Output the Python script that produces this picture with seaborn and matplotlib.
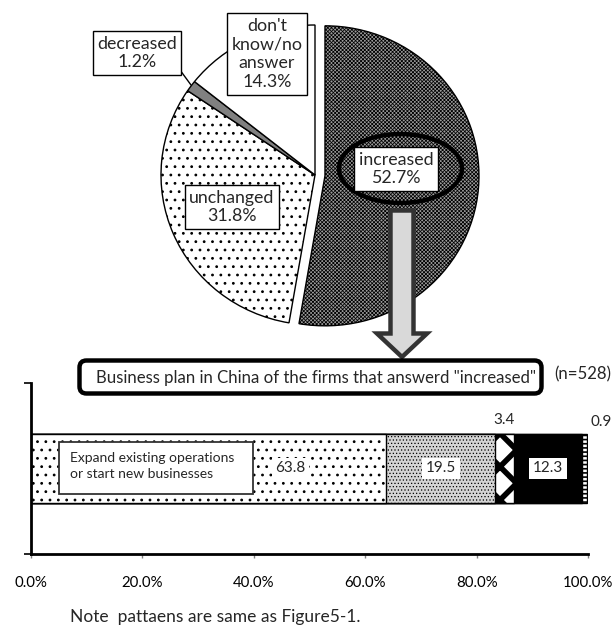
import numpy as np
import pandas as pd
import seaborn as sns
import matplotlib
matplotlib.use("Agg")
import matplotlib.pyplot as plt
from matplotlib.patches import Ellipse, FancyBboxPatch, Polygon, Rectangle

# Pie: change in business over the past year
pie_labels = ["increased", "unchanged", "decreased", "don't\nknow/no\nanswer"]
pie_values = [52.7, 31.8, 1.2, 14.3]

# Stacked bar: business plan in China of the firms answering "increased"
plan_values = [63.8, 19.5, 3.4, 12.3, 0.9]
plan_first_label = "Expand existing operations\nor start new businesses"
bar_title = 'Business plan in China of the firms that answerd "increased"'
n_label = "(n=528)"
xtick_values = [0, 20, 40, 60, 80, 100]
xtick_labels = ["0.0%", "20.0%", "40.0%", "60.0%", "80.0%", "100.0%"]
note_text = "Note  pattaens are same as Figure5-1."

sns.set_theme(style="white")
plt.rcParams["font.family"] = ["Lato", "DejaVu Sans"]
plt.rcParams["hatch.linewidth"] = 0.8

W, H = 615, 625
fig = plt.figure(figsize=(W / 100, H / 100), dpi=100)
renderer = fig.canvas.get_renderer()


def px_box(x0, y0, x1, y1):
    """Pixel box (origin top-left) to figure fraction rect."""
    return [x0 / W, 1 - y1 / H, (x1 - x0) / W, (y1 - y0) / H]


def fit(t, width_px, grow=1.04):
    w = t.get_window_extent(renderer).width
    t.set_fontsize(t.get_fontsize() * width_px / w * grow)


def hatch_lw(p, lw):
    if hasattr(p, "set_hatch_linewidth"):
        p.set_hatch_linewidth(lw)


# ---------------- pie ----------------
cx, cy, rx, ry = 315, 175, 154, 150
ax_pie = fig.add_axes(px_box(cx - 1.2 * rx, cy - 1.2 * ry, cx + 1.2 * rx, cy + 1.2 * ry))
wedges, _ = ax_pie.pie(
    pie_values, startangle=90, counterclock=False,
    explode=[0.065, 0, 0, 0],
    colors=["#9c9c9c", "white", "#808080", "white"],
    wedgeprops=dict(edgecolor="black", linewidth=1.0),
)
wedges[0].set_hatch("xxxxxxxxx")
hatch_lw(wedges[0], 0.55)
wedges[1].set_hatch("..")
ax_pie.set_aspect("auto")
ax_pie.set_xlim(-1.2, 1.2)
ax_pie.set_ylim(-1.2, 1.2)
ax_pie.axis("off")

# ---------------- stacked bar ----------------
ax_bar = fig.add_axes(px_box(31, 383, 588, 554))
cum = np.cumsum(plan_values)
seg_fc = ["white", "#d4d4d4", "white", "black", "white"]
seg_hatch = ["..", ".....", "x", None, "----"]
seg_hlw = [0.8, 0.5, 4.0, 0.8, 1.2]
for i in reversed(range(len(plan_values))):
    df = pd.DataFrame({"share": [cum[i]], "cat": [""]})
    n_before = len(ax_bar.patches)
    sns.barplot(data=df, x="share", y="cat", orient="h", width=0.404,
                color=seg_fc[i], saturation=1, edgecolor="black",
                linewidth=1.0, ax=ax_bar)
    for p in ax_bar.patches[n_before:]:
        p.set_facecolor(seg_fc[i])
        if seg_hatch[i]:
            p.set_hatch(seg_hatch[i])
            hatch_lw(p, seg_hlw[i])

ax_bar.set_xlim(0, 100)
ax_bar.set_ylim(0.5, -0.5)
ax_bar.set_xlabel("")
ax_bar.set_ylabel("")
ax_bar.set_yticks([-0.5, 0.5], ["", ""])
ax_bar.set_xticks(xtick_values, xtick_labels)
ax_bar.tick_params(axis="y", left=True, length=5, width=1.2, color="black", direction="out")
ax_bar.tick_params(axis="x", bottom=True, length=3, width=1, color="#808080",
                   direction="out", pad=13, labelcolor="black")
sns.despine(ax=ax_bar)
for s in ("left", "bottom"):
    ax_bar.spines[s].set_color("black")
    ax_bar.spines[s].set_linewidth(2)

# tick label size fitted to the label widths
probe = fig.text(0, 0, "20.0%", fontsize=10)
fit(probe, 40)
tick_fs = probe.get_fontsize()
probe.remove()
for lab in ax_bar.get_xticklabels():
    lab.set_fontsize(tick_fs)

# segment value labels
starts = cum - np.array(plan_values)
mids = starts + np.array(plan_values) / 2
t = ax_bar.text(starts[0] + plan_values[0] * 0.73, 0.0, f"{plan_values[0]}",
                ha="center", va="center", fontsize=11,
                bbox=dict(boxstyle="square,pad=0.2", fc="white", ec="none"))
fit(t, 29)
seg_fs = t.get_fontsize()
ax_bar.text(mids[1], 0.0, f"{plan_values[1]}", ha="center", va="center", fontsize=seg_fs,
            bbox=dict(boxstyle="square,pad=0.25", fc="white", ec="none"))
ax_bar.text(mids[2], -0.285, f"{plan_values[2]}", ha="center", va="center", fontsize=seg_fs)
ax_bar.text(mids[3], 0.0, f"{plan_values[3]}", ha="center", va="center", fontsize=seg_fs,
            bbox=dict(boxstyle="square,pad=0.25", fc="white", ec="none"))
ax_bar.text(mids[4] + 3.0, -0.27, f"{plan_values[4]}", ha="center", va="center", fontsize=seg_fs)

# ---------------- overlay: labels, arrow, boxes ----------------
ov = fig.add_axes([0, 0, 1, 1], zorder=10)
ov.set_xlim(0, W)
ov.set_ylim(H, 0)
ov.axis("off")
ov.patch.set_alpha(0)

box = dict(boxstyle="square,pad=0.26", fc="white", ec="black", lw=1.0)
pie_pos = [(396, 169), (232, 207), (137, 53), (267, 54)]
pie_texts = []
for lab, val, (x, y) in zip(pie_labels, pie_values, pie_pos):
    pie_texts.append(ov.text(x, y, f"{lab}\n{val}%", ha="center", va="center",
                             fontsize=12, linespacing=1.2, bbox=box, zorder=12))
fit(pie_texts[1], 82)
pie_fs = pie_texts[1].get_fontsize()
for t in pie_texts:
    t.set_fontsize(pie_fs)

# leader line for the small slice
ov.plot([180, 191], [70, 85], color="black", lw=1.0, zorder=11)

# emphasis ring around "increased"
ov.add_patch(Ellipse((400.5, 168.5), 123, 69, fill=False, ec="black", lw=3.2, zorder=11))

# block arrow down to the bar panel
arrow = Polygon([(390.5, 210.5), (413.5, 210.5), (413.5, 333.5), (427, 333.5),
                 (402, 357), (377, 333.5), (390.5, 333.5)],
                closed=True, fc="#d9d9d9", ec="#333333", lw=3.2, joinstyle="miter", zorder=11)
ov.add_patch(arrow)

# bar panel title box
ov.add_patch(FancyBboxPatch((79.5, 360.5), 462, 33,
                            boxstyle="round,pad=0,rounding_size=7",
                            fc="white", ec="black", lw=3.2, zorder=12))
tt = ov.text(315.5, 377.5, bar_title, ha="center", va="center", fontsize=11, zorder=13)
fit(tt, 441, 1.0)
tn = ov.text(554, 374, n_label, ha="left", va="center", fontsize=11, zorder=13)
fit(tn, 55)

# label box for the first bar segment
ov.add_patch(Rectangle((58.5, 441.5), 194, 52, fc="white", ec="#333333", lw=1.3, zorder=12))
te = ov.text(70, 466.5, plan_first_label, ha="left", va="center", fontsize=10,
             linespacing=1.4, zorder=13)
fit(te, 158)

# footnote
tnote = ov.text(70, 617, note_text, ha="left", va="center", fontsize=11, zorder=13)
fit(tnote, 279)

fig.savefig("out.png", dpi=100)
